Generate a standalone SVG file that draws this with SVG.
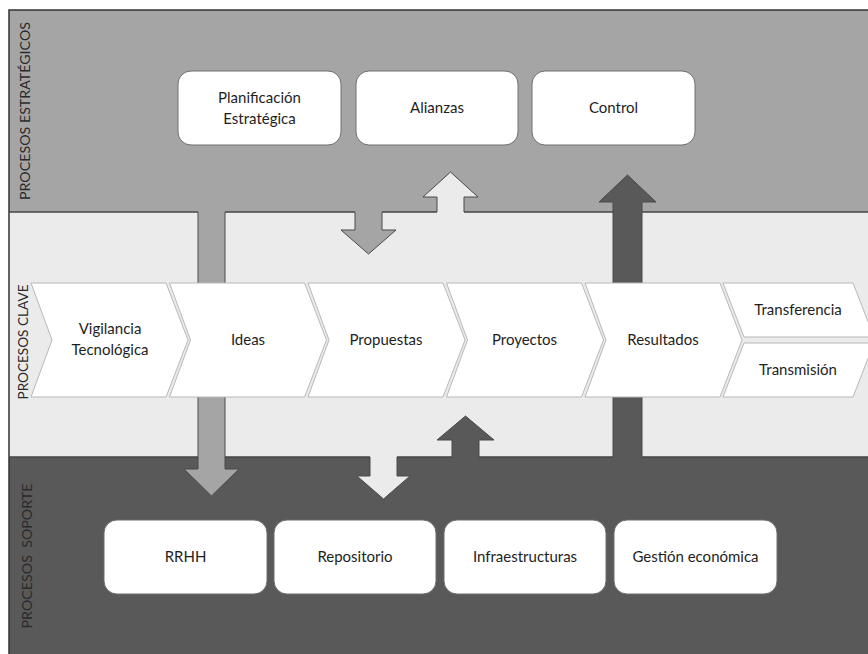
<svg xmlns="http://www.w3.org/2000/svg" width="868" height="654" viewBox="0 0 868 654">
<style>
.t{font-family:Lato,"Open Sans","Liberation Sans",sans-serif;font-size:15px;fill:#1e1e1e;text-anchor:middle}
.lab{font-family:Lato,"Open Sans","Liberation Sans",sans-serif;font-size:14px;fill:#2a2a2a;text-anchor:middle}
.box{fill:#ffffff;stroke:#6e6e6e;stroke-width:1}
.chev{fill:#ffffff;stroke:#b8b8b8;stroke-width:1}
.arr{stroke:#4a4a4a;stroke-width:1}
.bline{stroke:#454545;stroke-width:1.5;fill:none}
</style>
<rect x="0" y="0" width="868" height="654" fill="#ffffff"/>
<g id="bands">
<rect x="9" y="10" width="859" height="202" fill="#a5a5a5"/>
<rect x="9" y="212" width="859" height="245" fill="#ebebeb"/>
<rect x="9" y="457" width="859" height="197" fill="#595959"/>
<path d="M9,654 V10 H868" fill="none" stroke="#333" stroke-width="1.5"/>
</g>
<g id="connectors">
<path class="arr" fill="#a5a5a5" d="M198,212 V469 H184 L211.5,496 L239,469 H225 V212"/>
<path class="arr" fill="#a5a5a5" d="M355,212 V230 H341 L368.5,254 L396,230 H382 V212"/>
<path class="arr" fill="#ebebeb" d="M437,212 V197 H423 L450.5,172 L478,197 H464 V212"/>
<path class="arr" fill="#595959" d="M613,457 V202 H599 L627.5,175 L656,202 H642 V457"/>
<path class="arr" fill="#ebebeb" d="M370,457 V476 H357 L383.5,499 L410,476 H397 V457"/>
<path class="arr" fill="#595959" d="M452,457 V440 H437 L465.5,416 L494,440 H479 V457"/>
</g>
<g id="band-borders">
<path class="bline" d="M9,212 H198 M225,212 H355 M382,212 H437 M464,212 H613 M642,212 H868"/>
<path class="bline" d="M9,457 H198 M225,457 H370 M397,457 H452 M479,457 H613 M642,457 H868"/>
</g>
<g id="planificacion"><rect class="box" x="178" y="71" width="163" height="74" rx="13"/><text class="t" x="259.5" y="103">Planificación</text><text class="t" x="259.5" y="124">Estratégica</text></g>
<g id="alianzas"><rect class="box" x="356" y="71" width="162" height="74" rx="13"/><text class="t" x="437" y="113">Alianzas</text></g>
<g id="control"><rect class="box" x="532" y="71" width="163" height="74" rx="13"/><text class="t" x="613.5" y="113">Control</text></g>
<g id="vigilancia"><polygon class="chev" points="31,283 166,283 188,340 166,397 31,397 52,340"/><text class="t" x="110" y="334">Vigilancia</text><text class="t" x="110" y="355">Tecnológica</text></g>
<g id="ideas"><polygon class="chev" points="169.5,283 304.5,283 326.5,340 304.5,397 169.5,397 190.5,340"/><text class="t" x="248" y="345">Ideas</text></g>
<g id="propuestas"><polygon class="chev" points="308,283 443,283 465,340 443,397 308,397 329,340"/><text class="t" x="386" y="345">Propuestas</text></g>
<g id="proyectos"><polygon class="chev" points="446.5,283 581.5,283 603.5,340 581.5,397 446.5,397 467.5,340"/><text class="t" x="524.5" y="345">Proyectos</text></g>
<g id="resultados"><polygon class="chev" points="585,283 720,283 742,340 720,397 585,397 606,340"/><text class="t" x="663" y="345">Resultados</text></g>
<g id="transferencia"><polygon class="chev" points="723,283 853,283 874,337 744,337"/><text class="t" x="798" y="315">Transferencia</text></g>
<g id="transmision"><polygon class="chev" points="744,343 874,343 853,397 723,397"/><text class="t" x="798" y="375">Transmisión</text></g>
<g id="rrhh"><rect class="box" x="104" y="520" width="163" height="74" rx="13"/><text class="t" x="185.5" y="562">RRHH</text></g>
<g id="repositorio"><rect class="box" x="274" y="520" width="162" height="74" rx="13"/><text class="t" x="355" y="562">Repositorio</text></g>
<g id="infraestructuras"><rect class="box" x="444" y="520" width="162" height="74" rx="13"/><text class="t" x="525" y="562">Infraestructuras</text></g>
<g id="gestion"><rect class="box" x="614" y="520" width="163" height="74" rx="13"/><text class="t" x="695.5" y="562">Gestión económica</text></g>
<g id="band-labels">
<text class="lab" transform="translate(29.5,111) rotate(-90)" textLength="178" lengthAdjust="spacingAndGlyphs">PROCESOS ESTRATÉGICOS</text>
<text class="lab" transform="translate(28,342) rotate(-90)" textLength="115" lengthAdjust="spacingAndGlyphs">PROCESOS CLAVE</text>
<text class="lab" transform="translate(31.5,556) rotate(-90)" textLength="145" lengthAdjust="spacingAndGlyphs" xml:space="preserve">PROCESOS  SOPORTE</text>
</g>
</svg>
